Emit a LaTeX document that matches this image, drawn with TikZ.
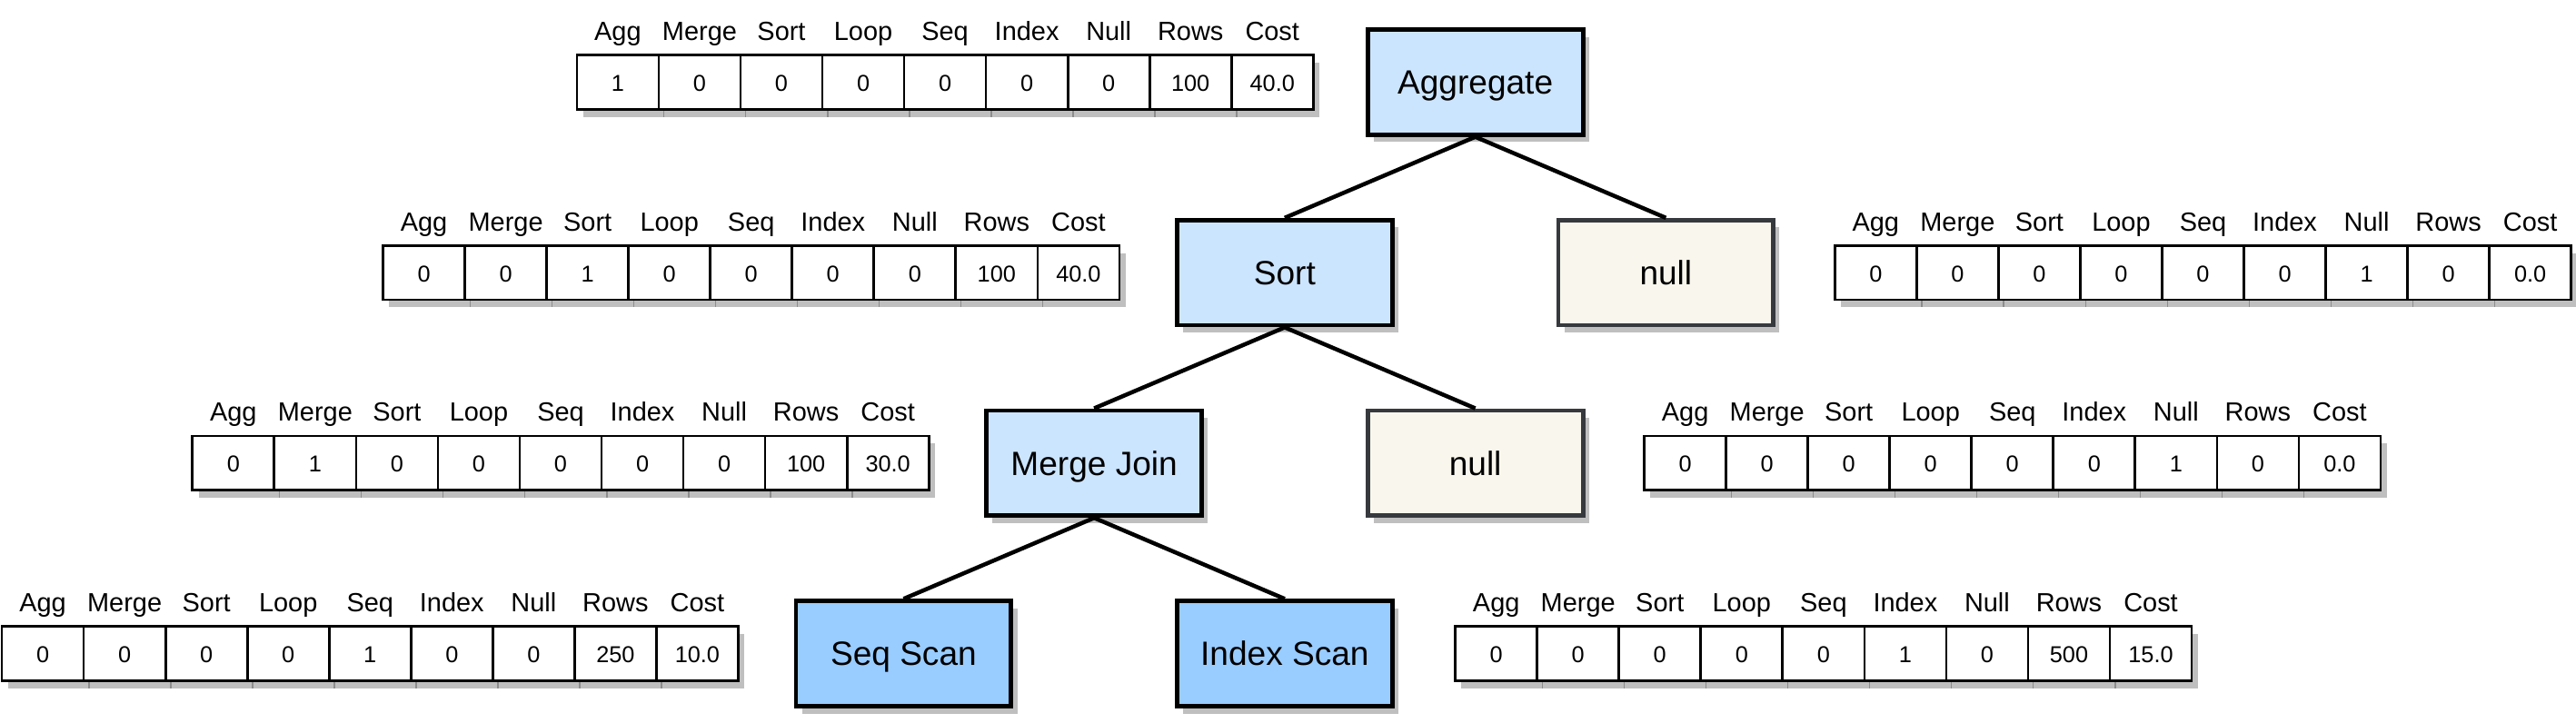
\documentclass[tikz,border=0pt]{standalone}
\usepackage{fontspec}
\setmainfont{Liberation Sans}
\usetikzlibrary{shadows}

\definecolor{planblue}{HTML}{CCE5FF}
\definecolor{scanblue}{HTML}{99CCFF}
\definecolor{nullfill}{HTML}{F9F7ED}
\definecolor{nullline}{HTML}{36393D}

\newcommand{\cellw}{49.8pt}
\newcommand{\planheads}{Agg,Merge,Sort,Loop,Seq,Index,Null,Rows,Cost}
% one cost vector: #1 = left end of the row, #2 = values
\newcommand{\plantable}[2]{%
  \foreach \v [count=\i] in {#2} {
    \node[cellbox, anchor=west] (#1-\i) at ([xshift={(\i-1)*\cellw}]#1) {\v};
    \ifnum\i<9
      \draw[shadowtick] ([xshift=3.2pt]#1-\i.south east) -- ++(0,4.6);
    \fi
  }
  \foreach \h [count=\i] in \planheads
    \node[headlabel] (#1-h\i) at ([yshift=9pt]#1-\i.north) {\h};
}

\tikzset{
  opnode/.style={draw, line width=2.7pt, minimum width=131pt, minimum height=64pt,
    font=\fontsize{20.5}{25}\selectfont, text height=14.6pt, text depth=0pt,
    drop shadow={shadow xshift=3.7pt, shadow yshift=-4.5pt, fill=black!25, opacity=1}},
  planop/.style={opnode, fill=planblue},
  scanop/.style={opnode, fill=scanblue},
  nullop/.style={opnode, draw=nullline, fill=nullfill},
  cellbox/.style={draw, line width=1.5pt, fill=white, minimum width=\cellw,
    minimum height=33pt, inner sep=0pt, outer sep=0pt,
    font=\fontsize{14}{17}\selectfont, text height=11pt, text depth=0pt,
    drop shadow={shadow xshift=3.7pt, shadow yshift=-4.6pt, fill=black!25, opacity=1}},
  shadowtick/.style={black!45, line width=0.8pt},
  headlabel/.style={anchor=base, font=\fontsize{16}{19}\selectfont},
  link/.style={line width=2.5pt}
}

\begin{document}
\begin{tikzpicture}[x=1pt, y=-1pt]
  \useasboundingbox (0,0) rectangle (1568,440);

  % plan tree
  \node[planop] (agg) at (898,50) {Aggregate};
  \node[planop] (sort) at (782,166) {Sort};
  \node[nullop] (null1) at (1014,166) {null};
  \node[planop] (mjoin) at (666,282) {Merge Join};
  \node[nullop] (null2) at (898,282) {null};
  \node[scanop] (seq) at (550,398) {Seq Scan};
  \node[scanop] (idx) at (782,398) {Index Scan};

  \draw[link] (agg.south) -- (sort.north);
  \draw[link] (agg.south) -- (null1.north);
  \draw[link] (sort.south) -- (mjoin.north);
  \draw[link] (sort.south) -- (null2.north);
  \draw[link] (mjoin.south) -- (seq.north);
  \draw[link] (mjoin.south) -- (idx.north);

  % cost vectors
  \coordinate (tagg) at ([xshift=-480pt]agg.west);
  \coordinate (tsort) at ([xshift=-482pt]sort.west);
  \coordinate (tnull1) at ([xshift=36pt]null1.east);
  \coordinate (tmjoin) at ([xshift=-482pt]mjoin.west);
  \coordinate (tnull2) at ([xshift=36pt]null2.east);
  \coordinate (tseq) at ([xshift=-482pt]seq.west);
  \coordinate (tidx) at ([xshift=37pt]idx.east);

  \plantable{tagg}{1,0,0,0,0,0,0,100,40.0}
  \plantable{tsort}{0,0,1,0,0,0,0,100,40.0}
  \plantable{tnull1}{0,0,0,0,0,0,1,0,0.0}
  \plantable{tmjoin}{0,1,0,0,0,0,0,100,30.0}
  \plantable{tnull2}{0,0,0,0,0,0,1,0,0.0}
  \plantable{tseq}{0,0,0,0,1,0,0,250,10.0}
  \plantable{tidx}{0,0,0,0,0,1,0,500,15.0}
\end{tikzpicture}
\end{document}
